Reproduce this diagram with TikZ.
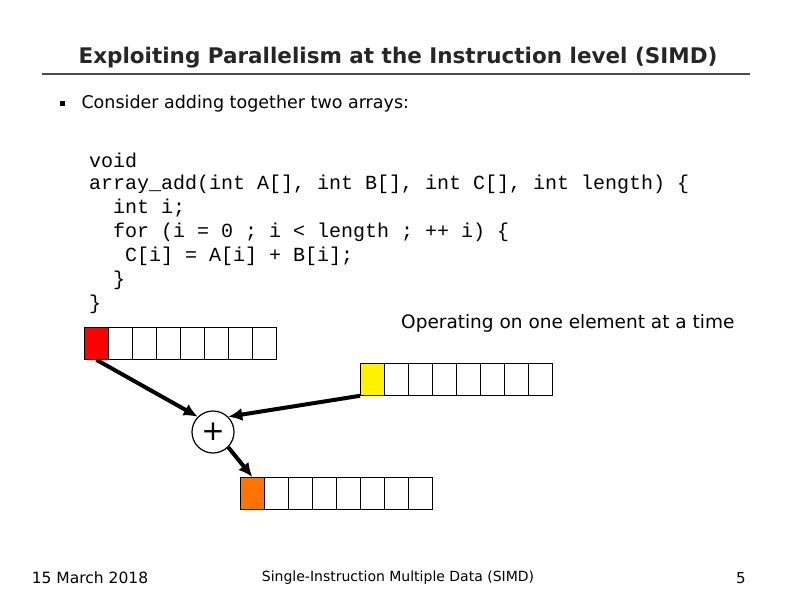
\documentclass[tikz,border=0pt]{standalone}
\usepackage{fontspec}
\setmainfont{DejaVu Sans}
\newfontfamily\codefont{Liberation Mono}
\usetikzlibrary{arrows.meta}
\begin{document}
\begin{tikzpicture}[x=1pt,y=-1pt,
  cell/.style={draw,line width=0.8pt,minimum width=24pt,minimum height=32pt,inner sep=0pt,anchor=north west},
  arr/.style={-{Latex[length=14pt,width=13pt]},line width=4pt},
  code/.style={anchor=west,font=\codefont\fontsize{20}{24}\selectfont,inner sep=0pt}]
\useasboundingbox (0,0) rectangle (792,612);
\node[font=\fontsize{21.5}{24}\selectfont\bfseries,text=black!85] (title) at (398,58) {Exploiting Parallelism at the Instruction level (SIMD)};
\draw[line width=1.2pt,draw=black!70] (42,74) -- (750,74);
\node[fill=black,minimum size=5pt,inner sep=0pt] (bul) at (62,104) {};
\node[anchor=west,font=\fontsize{17.5}{20}\selectfont] (cons) at (78,104) {Consider adding together two arrays:};
\node[code] (c1) at (89,160) {void};
\node[code] (c2) at (89,184) {array\_add(int A[], int B[], int C[], int length) \{};
\node[code] (c3) at (113,208) {int i;};
\node[code] (c4) at (113,232) {for (i = 0 ; i < length ; ++ i) \{};
\node[code] (c5) at (125,256) {C[i] = A[i] + B[i];};
\node[code] (c6) at (113,280) {\}};
\node[code] (c7) at (89,304) {\}};
\node[anchor=east,font=\fontsize{18.5}{20}\selectfont] (op) at (738,323) {Operating on one element at a time};
\foreach \i in {0,...,7}{
  \node[cell] (a\i) at (84+24*\i,327) {};
  \node[cell] (b\i) at (360+24*\i,363) {};
  \node[cell] (r\i) at (240+24*\i,477) {};
}
\node[cell,fill=red] at (a0.north west) {};
\node[cell,fill=yellow] at (b0.north west) {};
\node[cell,fill=orange!90!red] at (r0.north west) {};
\node[draw,circle,line width=1.2pt,minimum size=42pt,inner sep=0pt,font=\fontsize{28}{28}\selectfont] (plus) at (213,432) {+};
\draw[arr] (a0.south) -- (plus.north west);
\draw[arr] (b0.south west) -- (plus.north east);
\draw[arr] (plus.south east) -- (r0.north);
\node[font=\fontsize{15.5}{16}\selectfont] (date) at (90,578) {15 March 2018};
\node[font=\fontsize{14}{16}\selectfont] (foot) at (398,578) {Single-Instruction Multiple Data (SIMD)};
\node[font=\fontsize{15}{16}\selectfont] (pg) at (741,578) {5};
\end{tikzpicture}
\end{document}
